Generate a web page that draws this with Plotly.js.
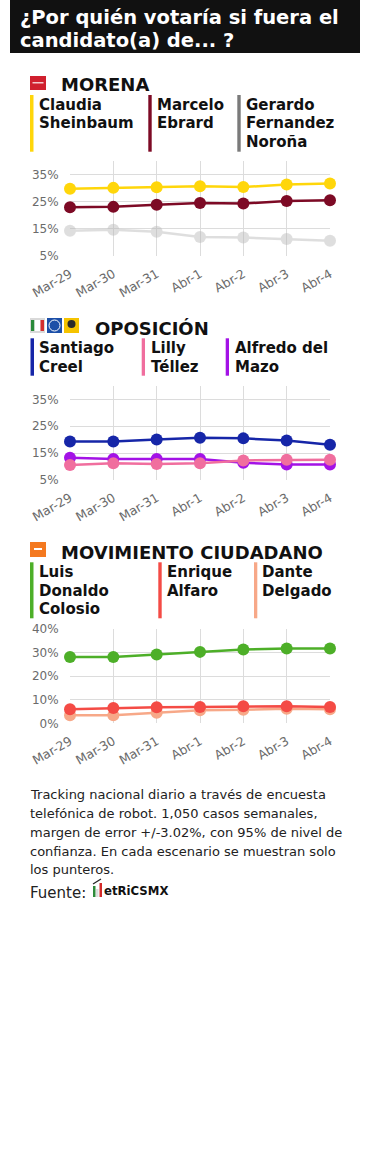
<!DOCTYPE html>
<html>
<head>
<meta charset="utf-8">
<script src="https://cdn.plot.ly/plotly-3.0.1.min.js"></script>
<style>
html,body{margin:0;padding:0;background:#fff;}
#chart{width:370px;height:1170px;}
</style>
</head>
<body>
<div id="chart"></div>
<script>
// ---- data ----
const dates = ['Mar-29','Mar-30','Mar-31','Abr-1','Abr-2','Abr-3','Abr-4'];
const sheinbaum = [29.8,30.1,30.3,30.7,30.4,31.3,31.7];
const ebrard    = [23.0,23.1,23.9,24.5,24.3,25.3,25.5];
const norona    = [14.3,14.7,13.9,12.0,11.8,11.3,10.6];
const creel     = [19.3,19.3,20.1,20.7,20.5,19.7,18.1];
const delmazo   = [13.3,12.8,12.8,12.8,11.4,10.8,10.8];
const tellez    = [10.6,11.2,11.0,11.2,12.3,12.5,12.5];
const colosio   = [28.0,28.0,29.1,30.2,31.2,31.6,31.6];
const delgado   = [3.4,3.4,4.5,5.5,5.7,6.2,5.9];
const alfaro    = [5.9,6.5,6.8,6.9,7.2,7.2,6.9];

const titleLines = ['¿Por quién votaría si fuera el','candidato(a) de... ?'];
const footerLines = [
  'Tracking nacional diario a través de encuesta',
  'telefónica de robot. 1,050 casos semanales,',
  'margen de error +/-3.02%, con 95% de nivel de',
  'confianza. En cada escenario se muestran solo',
  'los punteros.'
];

const W = 370, H = 1170;
const px = x => x / W;
const py = y => 1 - y / H;
const FONT = 'DejaVu Sans, Verdana, sans-serif';

function tr(y, color, axis, opacity){
  return {
    x: dates, y: y, type:'scatter', mode:'lines+markers',
    xaxis:'x'+axis, yaxis:'y'+axis, cliponaxis:false,
    line:{color:color, width:2.5},
    marker:{color:color, size:12},
    opacity: opacity===undefined?1:opacity,
    hoverinfo:'skip', showlegend:false
  };
}

const data = [
  tr(norona,'#b8b8b8','',0.45),
  tr(ebrard,'#7d0a25',''),
  tr(sheinbaum,'#FFD60A',''),
  tr(creel,'#1626A8','2'),
  tr(delmazo,'#A312E6','2'),
  tr(tellez,'#F06E9E','2'),
  tr(colosio,'#4DAF28','3'),
  tr(delgado,'#F7A888','3'),
  tr(alfaro,'#F44B45','3')
];

const xdom = [px(70), px(330)];
function xa(anchor){
  return {domain:xdom, anchor:anchor, type:'category', range:[0,6],
    showgrid:true, gridcolor:'#dcdcdc', gridwidth:1, zeroline:false, showline:false,
    tickangle:-30, ticks:'outside', ticklen:5, tickcolor:'rgba(0,0,0,0)',
    tickfont:{family:FONT, size:12.5, color:'#6b6b6b'}, fixedrange:true, automargin:false};
}
function ya(anchor, dom, r){
  return {domain:dom, anchor:anchor, range:r, tick0: r[0]===0?0:5, dtick:10, ticksuffix:'%',
    showgrid:true, gridcolor:'#dcdcdc', gridwidth:1, zeroline:false, showline:false,
    ticks:'outside', ticklen:8, tickcolor:'rgba(0,0,0,0)',
    tickfont:{family:FONT, size:12, color:'#6b6b6b'}, fixedrange:true, automargin:false};
}

const annotations = [];
function txt(t, x, y, size, bold, color){
  annotations.push({text: bold?'<b>'+t+'</b>':t, x:px(x), y:py(y), xref:'paper', yref:'paper',
    xanchor:'left', yanchor:'middle', showarrow:false, borderpad:0, borderwidth:0,
    font:{family:FONT, size:size, color:color||'#111'}});
}
// title
txt(titleLines[0], 20, 18, 19.5, true, '#ffffff');
txt(titleLines[1], 20, 40.5, 19.5, true, '#ffffff');
// headings
txt('MORENA', 61, 85, 18, true);
txt('OPOSICIÓN', 95, 328, 18, true);
txt('MOVIMIENTO CIUDADANO', 61, 552, 18, true);
// names
const names = [
  ['Claudia',39,104.5],['Sheinbaum',39,123],
  ['Marcelo',157,104.5],['Ebrard',157,123],
  ['Gerardo',246,104.5],['Fernandez',246,123],['Noroña',246,141.5],
  ['Santiago',39,347.5],['Creel',39,366.5],
  ['Lilly',151,347.5],['Téllez',151,366.5],
  ['Alfredo del',235,347.5],['Mazo',235,366.5],
  ['Luis',39,572],['Donaldo',39,590.5],['Colosio',39,609],
  ['Enrique',167,572],['Alfaro',167,590.5],
  ['Dante',262,572],['Delgado',262,590.5]
];
names.forEach(n=>txt(n[0], n[1], n[2], 15, true));
// footer
const fy = [794, 813, 832, 851, 869.5];
footerLines.forEach((l,i)=>txt(l, 30, fy[i], 13, false, '#222'));
txt('Fuente:', 30, 892.5, 15, false, '#222');
annotations.push({text:'<b>etRiCSMX</b>', x:px(104), y:py(890), xref:'paper', yref:'paper',
  xanchor:'left', yanchor:'middle', showarrow:false, borderpad:0, borderwidth:0,
  font:{family:'Liberation Sans Narrow, DejaVu Sans Condensed, Arial Narrow, sans-serif', size:13, color:'#111'}});

const shapes = [];
function rect(x0,y0,x1,y1,fill,line){
  shapes.push({type:'rect', xref:'paper', yref:'paper', x0:px(x0), x1:px(x1), y0:py(y1), y1:py(y0),
    fillcolor:fill, line:{width:line?1:0, color:line||fill}, layer:'below'});
}
function circ(x0,y0,x1,y1,fill,line){
  shapes.push({type:'circle', xref:'paper', yref:'paper', x0:px(x0), x1:px(x1), y0:py(y1), y1:py(y0),
    fillcolor:fill, line:{width:line?1:0, color:line||fill}, layer:'above'});
}
// title box
rect(10,0,360,53,'#111111');
// legend bars
rect(30,95,33.5,151.7,'#FFD60A');
rect(148.3,95,151.7,151.7,'#7d0a25');
rect(237.3,95,240.7,151.7,'#7a7a7a');
rect(30.5,338.3,34,375.7,'#1626A8');
rect(141.7,338.3,145,375.7,'#F06E9E');
rect(225.7,338.3,229,375.7,'#A312E6');
rect(30,562.3,33.5,618.3,'#4DAF28');
rect(158.3,562.3,161.7,618.3,'#F44B45');
rect(254,562.3,257.3,618.3,'#F7A888');
// logos
rect(30,76,46,90,'#D0202E');
rect(32.5,82,43.5,83.5,'#f3c9cc');
rect(30,318,45,333,'#d9d9d9');
rect(31,320,34.5,331,'#2a8a3a');
rect(34.5,320,40.5,331,'#ffffff');
rect(40.5,320,44,331,'#d32f2f');
rect(47,318,62,333,'#1c4fa8');
circ(49,320,60,331,'#1c4fa8','#ffffff');
rect(64,318,79,333,'#F5C300');
circ(67.5,320,75.5,328,'#2a2a2a');
rect(30,542,46,557,'#F47920');
rect(34,548,42,550,'#ffffff');
// metrics icon
rect(93,886,95.5,897,'#2e8b3a');
rect(96,889,98.5,897,'#dddddd');
rect(99.5,883,102,897,'#d42a2a');
shapes.push({type:'line', xref:'paper', yref:'paper', x0:px(93), y0:py(884), x1:px(101), y1:py(879),
  line:{color:'#222', width:1.2}});

const layout = {
  width:W, height:H, margin:{l:0,r:0,t:0,b:0},
  paper_bgcolor:'#ffffff', plot_bgcolor:'rgba(0,0,0,0)',
  showlegend:false, hovermode:false,
  xaxis: xa('y'), yaxis: ya('x',[py(256),py(161)],[5,40]),
  xaxis2: xa('y2'), yaxis2: ya('x2',[py(480),py(386)],[5,40]),
  xaxis3: xa('y3'), yaxis3: ya('x3',[py(723.3),py(628.7)],[0,40]),
  annotations: annotations, shapes: shapes,
  font:{family:FONT}
};
data.forEach(d=>{ if(d.xaxis==='x'){ d.xaxis='x'; d.yaxis='y'; } });

Plotly.newPlot('chart', data, layout, {displayModeBar:false, staticPlot:true});
</script>
</body>
</html>
